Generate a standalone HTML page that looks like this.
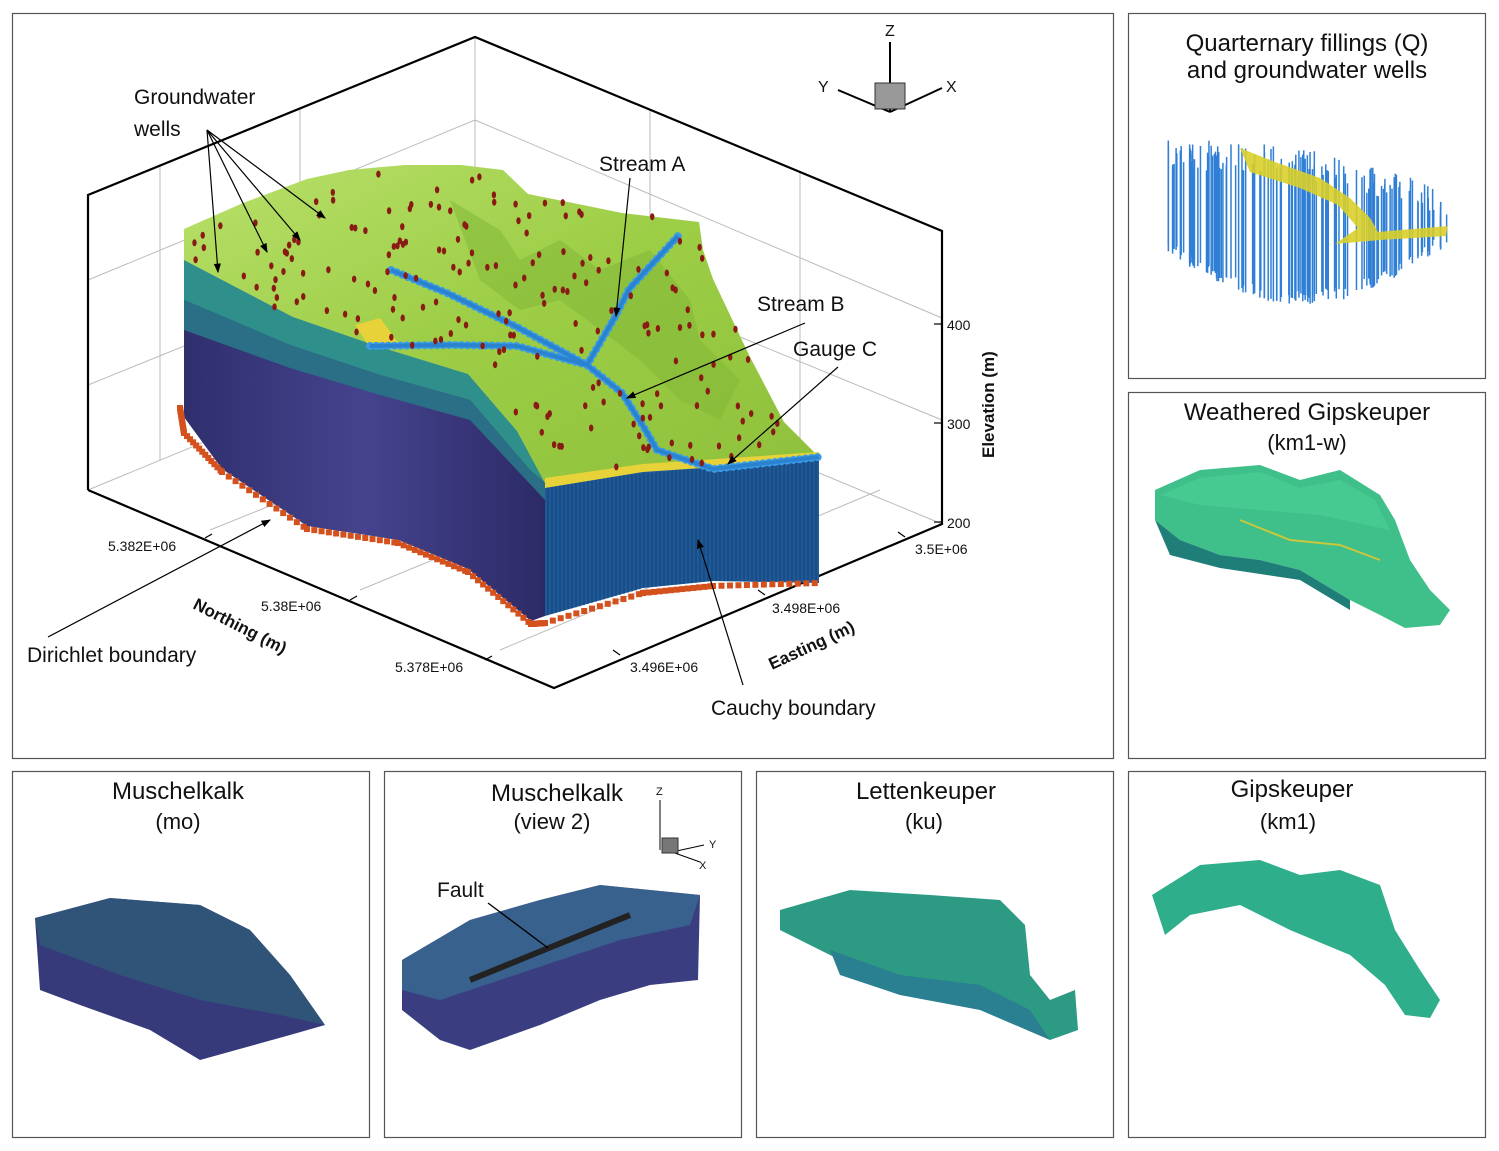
<!DOCTYPE html>
<html><head><meta charset="utf-8"><style>
html,body{margin:0;padding:0;background:#fff;}
svg{display:block;font-family:"Liberation Sans",sans-serif;}
</style></head><body>
<svg id="s" width="1499" height="1151" viewBox="0 0 1499 1151" xmlns="http://www.w3.org/2000/svg">
<defs>
<linearGradient id="gr" x1="0" y1="0" x2="1" y2="1"><stop offset="0" stop-color="#b8e06a"/><stop offset="0.5" stop-color="#9ccd45"/><stop offset="1" stop-color="#8fc03c"/></linearGradient>
<linearGradient id="pu" x1="0" y1="0" x2="1" y2="0"><stop offset="0" stop-color="#2f2f6e"/><stop offset="0.5" stop-color="#45438d"/><stop offset="1" stop-color="#2c2a66"/></linearGradient>
<marker id="ar" markerWidth="8" markerHeight="8" refX="7" refY="4" orient="auto"><path d="M0,1 L8,4 L0,7 z" fill="#000"/></marker>
</defs>
<g fill="none" stroke="#555" stroke-width="1.2">
<rect x="12.5" y="13.5" width="1101" height="745"/>
<rect x="1128.5" y="13.5" width="357" height="365"/>
<rect x="1128.5" y="392.5" width="357" height="366"/>
<rect x="12.5" y="771.5" width="357" height="366"/>
<rect x="384.5" y="771.5" width="357" height="366"/>
<rect x="756.5" y="771.5" width="357" height="366"/>
<rect x="1128.5" y="771.5" width="357" height="366"/>
</g>
<g stroke="#bbb" stroke-width="1" fill="none">
<line x1="475" y1="37" x2="475" y2="330"/>
<line x1="160" y1="165" x2="160" y2="460"/>
<line x1="300" y1="108" x2="300" y2="400"/>
<line x1="650" y1="110" x2="650" y2="400"/>
<line x1="800" y1="172" x2="800" y2="465"/>
<line x1="88" y1="280" x2="475" y2="120"/>
<line x1="88" y1="385" x2="475" y2="228"/>
<line x1="475" y1="120" x2="942" y2="318"/>
<line x1="475" y1="228" x2="942" y2="420"/>
<line x1="475" y1="330" x2="942" y2="524"/>
<line x1="88" y1="490" x2="475" y2="330"/>
<line x1="210" y1="530" x2="620" y2="365"/>
<line x1="360" y1="590" x2="760" y2="425"/>
<line x1="500" y1="650" x2="880" y2="490"/>
</g>
<g stroke="#000" stroke-width="2.2" fill="none">
<polyline points="88,490 88,195 475,37 942,231 942,524 554,688 88,490"/>
</g>
<g stroke="#000" stroke-width="1.2">
<line x1="942" y1="324" x2="934" y2="324"/><line x1="942" y1="423" x2="934" y2="423"/><line x1="942" y1="522" x2="934" y2="522"/>
<line x1="205" y1="538" x2="212" y2="534"/><line x1="350" y1="600" x2="357" y2="596"/><line x1="485" y1="660" x2="492" y2="656"/>
<line x1="620" y1="655" x2="613" y2="650"/><line x1="765" y1="595" x2="758" y2="590"/><line x1="905" y1="537" x2="898" y2="532"/>
</g>
<path d="M184,229 L184,417 L222,469 L307,526 L398,540 L468,569 L531,621 L545,616 L545,483 L517,431 L468,374 L377,346 L293,317 L184,260 Z" fill="url(#pu)"/>
<path d="M184,260 L293,317 L377,346 L468,374 L517,431 L545,483 L530,470 L470,400 L380,375 L290,345 L184,300 Z" fill="#2f8f8a"/>
<path d="M184,300 L290,345 L380,375 L470,400 L530,470 L545,483 L545,500 L470,420 L380,395 L290,368 L184,330 Z" fill="#2a6f85"/>
<path d="M545,483 L643,469 L819,457 L819,583 L713,581 L643,588 L545,616 Z" fill="#1f5a98"/>
<g stroke="#153f75" stroke-width="1" id="vl"></g>
<path d="M184,229 L243,203 L307,179 L349,170 L405,165 L461,165 L503,170 L528,194 L573,203 L622,213 L699,222 L703,250 L713,279 L749,355 L784,422 L819,457 L643,469 L545,483 L517,431 L468,374 L377,346 L293,317 L184,260 Z" fill="url(#gr)"/>
<path d="M450,200 L500,230 L520,260 L560,240 L600,270 L650,250 L690,300 L700,340 L740,380 L720,420 L680,400 L640,360 L600,330 L560,300 L520,310 L480,280 Z" fill="#7fb535" opacity="0.5"/>
<path d="M355,325 L380,318 L400,345 L370,348 Z" fill="#e7d23a"/>
<path d="M545,478 L643,464 L819,452 L819,460 L643,472 L545,488 Z" fill="#e7d23a"/>
<g fill="none" stroke="#3a9be6" stroke-width="8" stroke-linecap="round" stroke-dasharray="0.1 6">
<polyline points="391,270 447,293 517,327 587,365 622,393 643,426 657,450 713,469 819,457"/>
<polyline points="587,365 615,317 629,289 678,236"/>
<polyline points="370,346 450,345 517,346 587,365"/>
</g>
<g fill="none" stroke="#2b83d0" stroke-width="4">
<polyline points="391,270 447,293 517,327 587,365 622,393 643,426 657,450 713,469 819,457"/>
<polyline points="587,365 615,317 629,289 678,236"/>
<polyline points="370,346 450,345 517,346 587,365"/>
</g>
<g id="dots"></g>
<g id="bd"></g>
<g stroke="#000" stroke-width="1.2" fill="none">
<line x1="207" y1="130" x2="218" y2="272" marker-end="url(#ar)"/>
<line x1="207" y1="130" x2="267" y2="252" marker-end="url(#ar)"/>
<line x1="207" y1="130" x2="300" y2="240" marker-end="url(#ar)"/>
<line x1="207" y1="130" x2="325" y2="218" marker-end="url(#ar)"/>
<line x1="630" y1="178" x2="616" y2="316" marker-end="url(#ar)"/>
<line x1="805" y1="323" x2="627" y2="398" marker-end="url(#ar)"/>
<line x1="838" y1="367" x2="728" y2="464" marker-end="url(#ar)"/>
<line x1="48" y1="637" x2="270" y2="520" marker-end="url(#ar)"/>
<line x1="743" y1="685" x2="698" y2="540" marker-end="url(#ar)"/>
</g>
<g font-size="21" fill="#111">
<text x="134" y="104">Groundwater</text><text x="134" y="136">wells</text>
<text x="599" y="171">Stream A</text>
<text x="757" y="311">Stream B</text>
<text x="793" y="356">Gauge C</text>
<text x="27" y="662">Dirichlet boundary</text>
<text x="711" y="715">Cauchy boundary</text>
</g>
<g font-size="14" fill="#111">
<text x="108" y="551">5.382E+06</text>
<text x="261" y="611">5.38E+06</text>
<text x="395" y="672">5.378E+06</text>
<text x="630" y="672">3.496E+06</text>
<text x="772" y="613">3.498E+06</text>
<text x="915" y="554">3.5E+06</text>
<text x="947" y="330">400</text><text x="947" y="429">300</text><text x="947" y="528">200</text>
</g>
<g font-size="17" font-weight="bold" fill="#111">
<text transform="translate(192,608) rotate(27)">Northing (m)</text>
<text transform="translate(772,670) rotate(-25)">Easting (m)</text>
<text transform="translate(994,458) rotate(-90)">Elevation (m)</text>
</g>
<g stroke="#000" stroke-width="2" fill="none">
<line x1="890" y1="42" x2="890" y2="112"/><line x1="890" y1="112" x2="838" y2="90"/><line x1="890" y1="112" x2="942" y2="88"/>
</g>
<rect x="875" y="83" width="30" height="26" fill="#999" stroke="#333"/>
<g font-size="16" fill="#111"><text x="885" y="36">Z</text><text x="818" y="92">Y</text><text x="946" y="92">X</text></g>

<g font-size="24" fill="#111" text-anchor="middle">
<text x="1307" y="51">Quarternary fillings (Q)</text>
<text x="1307" y="78">and groundwater wells</text>
<text x="1307" y="420">Weathered Gipskeuper</text>
<text x="1307" y="450" font-size="22">(km1-w)</text>
<text x="178" y="799">Muschelkalk</text><text x="178" y="829" font-size="22">(mo)</text>
<text x="557" y="801">Muschelkalk</text><text x="552" y="829" font-size="22">(view 2)</text>
<text x="926" y="799">Lettenkeuper</text><text x="924" y="829" font-size="22">(ku)</text>
<text x="1292" y="797">Gipskeuper</text><text x="1288" y="829" font-size="22">(km1)</text>
</g>
<g id="wells" stroke="#2f7fd6" stroke-width="1.5"></g>
<path d="M1240,148 L1275,162 L1320,178 L1350,198 L1370,218 L1378,232 L1448,226 L1446,236 L1380,240 L1335,244 L1358,228 L1338,205 L1300,188 L1250,172 Z" fill="#d9cf2a" opacity="0.9"/>
<path d="M1155,490 L1200,470 L1260,465 L1300,480 L1340,470 L1380,495 L1395,520 L1410,560 L1430,590 L1450,610 L1440,625 L1405,628 L1380,615 L1350,600 L1300,570 L1260,560 L1220,555 L1180,540 L1155,520 Z" fill="#3fbf8a"/>
<path d="M1160,495 L1200,478 L1260,472 L1300,488 L1340,480 L1375,500 L1390,530 L1320,515 L1260,510 L1200,505 Z" fill="#4ccf95" opacity="0.7"/>
<path d="M1155,520 L1180,540 L1220,555 L1260,560 L1300,570 L1350,600 L1350,610 L1300,580 L1220,568 L1170,555 Z" fill="#1f7f78"/>
<path d="M1240,520 L1290,540 L1340,545 L1380,560" fill="none" stroke="#c9c83a" stroke-width="2"/>
<path d="M35,918 L110,898 L200,905 L250,930 L290,975 L325,1025 L290,1035 L200,1060 L150,1030 L80,1005 L40,990 Z" fill="#363a7a"/>
<path d="M35,918 L110,898 L200,905 L250,930 L290,975 L325,1025 L280,1015 L200,1000 L120,975 L40,945 Z" fill="#2f5a78" opacity="0.8"/>
<path d="M402,960 L470,920 L540,900 L600,885 L700,895 L698,980 L650,985 L600,1000 L540,1025 L470,1050 L440,1040 L402,1010 Z" fill="#3a3e80"/>
<path d="M402,960 L470,920 L540,900 L600,885 L700,895 L690,925 L620,940 L560,960 L500,980 L440,1000 L402,990 Z" fill="#3a6a90" opacity="0.8"/>
<line x1="470" y1="980" x2="630" y2="915" stroke="#222" stroke-width="6"/>
<line x1="488" y1="903" x2="548" y2="948" stroke="#000" stroke-width="1.3"/>
<text x="437" y="897" font-size="21" fill="#111">Fault</text>
<g stroke="#000" stroke-width="1" fill="none"><line x1="660" y1="800" x2="660" y2="850"/><line x1="672" y1="852" x2="704" y2="845"/><line x1="672" y1="852" x2="700" y2="862"/></g>
<rect x="662" y="838" width="16" height="15" fill="#777" stroke="#333"/>
<g font-size="11" fill="#111"><text x="656" y="795">Z</text><text x="709" y="848">Y</text><text x="699" y="869">X</text></g>
<path d="M780,910 L850,890 L930,895 L1000,900 L1025,925 L1030,975 L1050,1000 L1075,990 L1078,1030 L1050,1040 L980,1000 L900,985 L840,960 L780,930 Z" fill="#2d9a84"/>
<path d="M830,950 L900,975 L980,985 L1030,1010 L1050,1040 L980,1010 L900,995 L840,975 Z" fill="#2a7f90"/>
<path d="M1152,895 L1200,865 L1260,860 L1300,875 L1340,870 L1380,885 L1395,930 L1420,970 L1440,1000 L1430,1018 L1405,1015 L1385,985 L1350,955 L1290,930 L1240,905 L1190,915 L1165,935 Z" fill="#2eae8a"/>
</svg>
<script>
(function(){
var ns="http://www.w3.org/2000/svg";
function r(n){var x=Math.sin(n*12.9898)*43758.5453;return x-Math.floor(x);}
function inPoly(x,y,p){var c=false;for(var i=0,j=p.length-1;i<p.length;j=i++){if(((p[i][1]>y)!=(p[j][1]>y))&&(x<(p[j][0]-p[i][0])*(y-p[i][1])/(p[j][1]-p[i][1])+p[i][0]))c=!c;}return c;}
var P=[[184,229],[243,203],[307,179],[349,170],[405,165],[461,165],[503,170],[528,194],[573,203],[622,213],[699,222],[703,250],[713,279],[749,355],[784,422],[819,457],[643,469],[545,483],[517,431],[468,374],[377,346],[293,317],[184,260]];
var g=document.getElementById("dots"),k=0,n=0;
while(n<190&&k<3000){k++;var x=184+r(k)*635,y=165+r(k+999)*320;if(inPoly(x,y,P)){var e=document.createElementNS(ns,"ellipse");e.setAttribute("cx",x);e.setAttribute("cy",y);e.setAttribute("rx",2.2);e.setAttribute("ry",3.5);e.setAttribute("fill","#8a1a14");g.appendChild(e);n++;}}
var b=document.getElementById("bd"),pts=[[180,405],[184,430],[222,469],[307,526],[398,540],[468,569],[531,621],[545,620],[643,590],[713,583],[819,580]];
for(var i=0;i<pts.length-1;i++){for(var t=0;t<1;t+=0.08){var x=pts[i][0]+(pts[i+1][0]-pts[i][0])*t,y=pts[i][1]+(pts[i+1][1]-pts[i][1])*t;var e=document.createElementNS(ns,"rect");e.setAttribute("x",x-3);e.setAttribute("y",y);e.setAttribute("width",6);e.setAttribute("height",6);e.setAttribute("fill","#d4501c");b.appendChild(e);}}
var v=document.getElementById("vl");
for(var x=548;x<819;x+=4){var yb=x<643?616-(x-545)*0.28:(x<713?588-(x-643)*0.1:581);var e=document.createElementNS(ns,"line");e.setAttribute("x1",x);e.setAttribute("x2",x);e.setAttribute("y1",483-(x-545)*0.095);e.setAttribute("y2",yb);v.appendChild(e);}
var w=document.getElementById("wells");
for(var i=0;i<150;i++){var x=1168+r(i+50)*280;var f=(x-1168)/280;var top=140+f*50+r(i+77)*30-Math.sin(f*3.14)*15;var bot=240+Math.sin(f*3.14)*55+r(i+300)*15-f*10;var e=document.createElementNS(ns,"line");e.setAttribute("x1",x);e.setAttribute("x2",x);e.setAttribute("y1",top);e.setAttribute("y2",bot);w.appendChild(e);}
})();
</script>
</body></html>
